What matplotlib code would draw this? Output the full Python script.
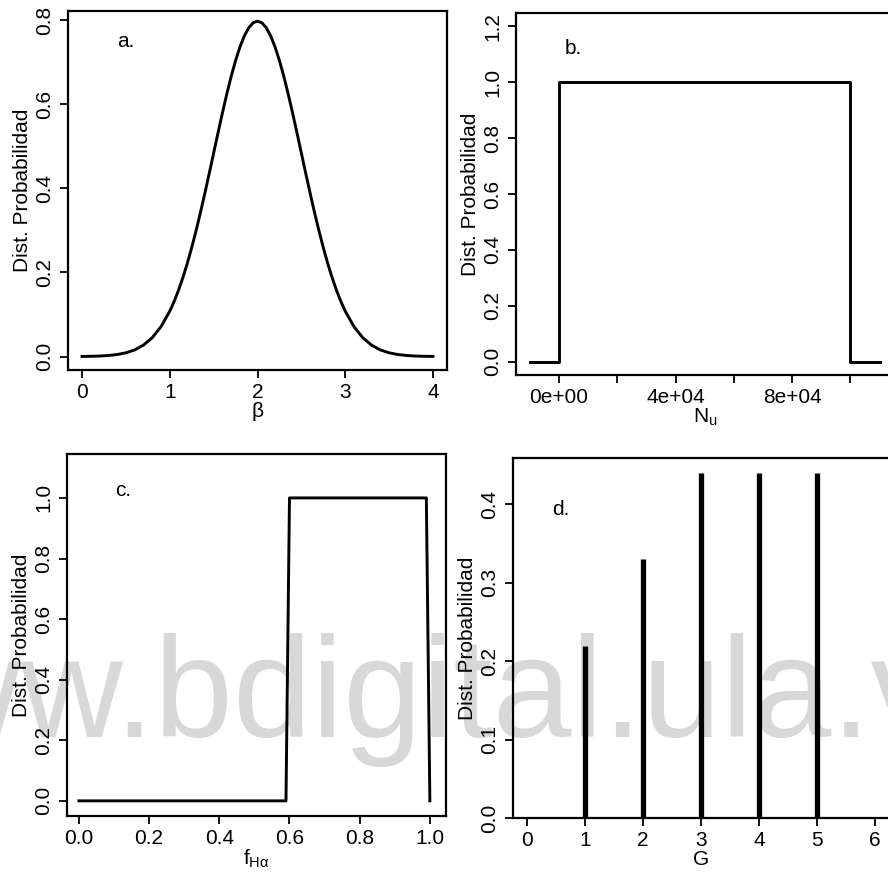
import matplotlib
matplotlib.use("Agg")
import matplotlib.pyplot as plt
import numpy as np

plt.rcParams['font.family'] = ['Liberation Sans', 'DejaVu Sans']
plt.rcParams['mathtext.fontset'] = 'custom'
plt.rcParams['mathtext.rm'] = 'Liberation Sans'
plt.rcParams['mathtext.it'] = 'Liberation Sans:italic'
plt.rcParams['mathtext.default'] = 'regular'

# ---- data ----
# a. distribution of beta (bell curve)
beta_x = [0.0, 0.1, 0.2, 0.3, 0.4, 0.5, 0.6, 0.7, 0.8, 0.9, 1.0,
          1.05, 1.1, 1.15, 1.2, 1.25, 1.3, 1.35, 1.4, 1.45, 1.5,
          1.55, 1.6, 1.65, 1.7, 1.75, 1.8, 1.85, 1.9, 1.95, 2.0,
          2.05, 2.1, 2.15, 2.2, 2.25, 2.3, 2.35, 2.4, 2.45, 2.5,
          2.55, 2.6, 2.65, 2.7, 2.75, 2.8, 2.85, 2.9, 2.95, 3.0,
          3.1, 3.2, 3.3, 3.4, 3.5, 3.6, 3.7, 3.8, 3.9, 4.0]
beta_p = [0.0003, 0.0006, 0.0012, 0.0025, 0.0048, 0.0089, 0.0158, 0.0272, 0.0448, 0.0710, 0.1080,
          0.1312, 0.1579, 0.1881, 0.2218, 0.2591, 0.2995, 0.3428, 0.3884, 0.4357, 0.4839,
          0.5322, 0.5794, 0.6245, 0.6664, 0.7041, 0.7365, 0.7628, 0.7821, 0.7939, 0.7979,
          0.7939, 0.7821, 0.7628, 0.7365, 0.7041, 0.6664, 0.6245, 0.5794, 0.5322, 0.4839,
          0.4357, 0.3884, 0.3428, 0.2995, 0.2591, 0.2218, 0.1881, 0.1579, 0.1312, 0.1080,
          0.0710, 0.0448, 0.0272, 0.0158, 0.0089, 0.0048, 0.0025, 0.0012, 0.0006, 0.0003]

# b. uniform distribution of N_u
nu_x = [-10000, 0, 0, 100000, 100000, 110000]
nu_p = [0.0, 0.0, 1.0, 1.0, 0.0, 0.0]

# c. uniform distribution of f_Halpha
f_x = [0.0, 0.59, 0.60, 0.99, 1.0]
f_p = [0.0, 0.0, 1.0, 1.0, 0.0]

# d. discrete distribution of G
g_vals = [1, 2, 3, 4, 5]
g_p = [0.22, 0.33, 0.44, 0.44, 0.44]

panel_labels = ['a.', 'b.', 'c.', 'd.']
ylab = 'Dist. Probabilidad'

W, H = 888, 872
fig = plt.figure(figsize=(W / 100, H / 100), dpi=100)

def add_ax(l, r, t, b):
    return fig.add_axes([l / W, 1 - b / H, (r - l) / W, (b - t) / H])

FS = 15
LW_AX = 1.6

def style(ax):
    for s in ax.spines.values():
        s.set_linewidth(LW_AX)
    ax.patch.set_facecolor('none')
    ax.tick_params(direction='out', length=6, width=1.3, labelsize=FS, pad=3)
    ax.tick_params(axis='y', pad=4)
    for lab in ax.get_yticklabels():
        lab.set_rotation(90)
        lab.set_va('center')
    ax.set_ylabel(ylab, fontsize=FS, labelpad=2)

# panel a
ax = add_ax(68, 447, 11, 370)
ax.plot(beta_x, beta_p, color='black', lw=2.1, solid_joinstyle='round')
ax.set_xlim(-0.16, 4.16)
ax.set_ylim(-0.032, 0.822)
ax.set_xticks([0, 1, 2, 3, 4])
ax.set_yticks([0.0, 0.2, 0.4, 0.6, 0.8])
ax.set_yticklabels(['0.0', '0.2', '0.4', '0.6', '0.8'])
ax.set_xlabel('β', fontsize=FS, labelpad=0)
style(ax)
ax.text(0.13, 0.915, panel_labels[0], transform=ax.transAxes, fontsize=FS, va='center', ha='left')

# panel b
ax = add_ax(516, 893.6, 13, 375)
ax.plot(nu_x, nu_p, color='black', lw=2.1)
ax.set_xlim(-14800, 114800)
ax.set_ylim(-0.048, 1.248)
ax.set_xticks([0, 20000, 40000, 60000, 80000, 100000])
ax.set_xticklabels(['0e+00', '', '4e+04', '', '8e+04', ''])
ax.set_yticks([0.0, 0.2, 0.4, 0.6, 0.8, 1.0, 1.2])
ax.set_yticklabels(['0.0', '0.2', '0.4', '0.6', '0.8', '1.0', '1.2'])
ax.set_xlabel(r'$\mathregular{N_u}$', fontsize=FS, labelpad=0)
style(ax)
ax.text(0.13, 0.903, panel_labels[1], transform=ax.transAxes, fontsize=FS, va='center', ha='left')

# panel c
ax = add_ax(67, 446, 454, 816)
ax.plot(f_x, f_p, color='black', lw=2.1)
ax.set_xlim(-0.034, 1.046)
ax.set_ylim(-0.05, 1.145)
ax.set_xticks([0.0, 0.2, 0.4, 0.6, 0.8, 1.0])
ax.set_xticklabels(['0.0', '0.2', '0.4', '0.6', '0.8', '1.0'])
ax.set_yticks([0.0, 0.2, 0.4, 0.6, 0.8, 1.0])
ax.set_yticklabels(['0.0', '0.2', '0.4', '0.6', '0.8', '1.0'])
ax.set_xlabel(r'$\mathregular{f_{Hα}}$', fontsize=FS, labelpad=0)
style(ax)
ax.text(0.127, 0.90, panel_labels[2], transform=ax.transAxes, fontsize=FS, va='center', ha='left')

# panel d
ax = add_ax(512.7, 889.2, 458, 818.3)
ax.vlines(g_vals, 0, g_p, color='black', lw=3.8, capstyle='butt')
ax.set_xlim(-0.24, 6.24)
ax.set_ylim(0.0, 0.459)
ax.set_xticks([0, 1, 2, 3, 4, 5, 6])
ax.set_yticks([0.0, 0.1, 0.2, 0.3, 0.4])
ax.set_yticklabels(['0.0', '0.1', '0.2', '0.3', '0.4'])
ax.set_xlabel('G', fontsize=FS, labelpad=0)
style(ax)
ax.text(0.104, 0.856, panel_labels[3], transform=ax.transAxes, fontsize=FS, va='center', ha='left')

# watermark
fig.text(-184 / W, 1 - 737 / H, 'www.bdigital.ula.ve', fontsize=102, color='#d8d8d8',
         ha='left', va='baseline', zorder=-1)

fig.savefig('out.png', dpi=100)
